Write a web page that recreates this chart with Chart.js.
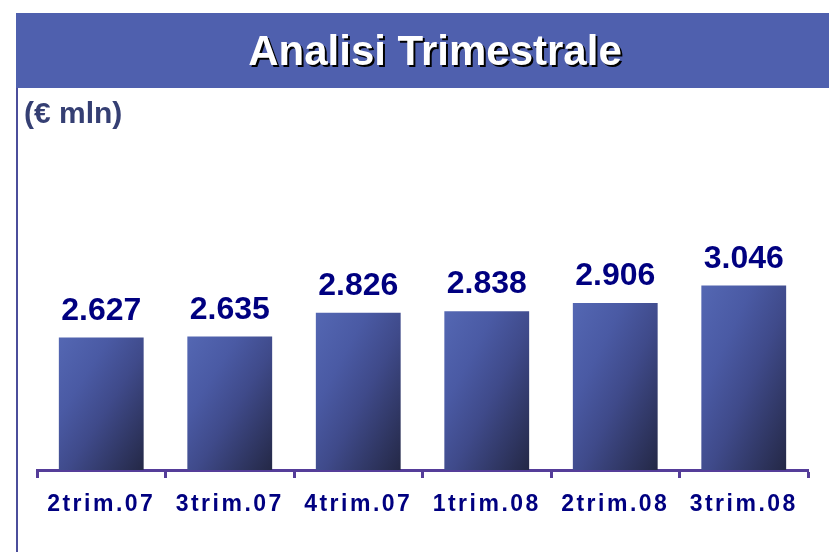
<!DOCTYPE html>
<html>
<head>
<meta charset="utf-8">
<script src="https://cdn.jsdelivr.net/npm/chart.js@4.4.1/dist/chart.umd.min.js"></script>
<style>
html,body{margin:0;padding:0;background:#fff;}
canvas{display:block;}
</style>
</head>
<body>
<canvas id="c" width="829" height="552"></canvas>
<script>
// ---- data ----
const categories = ["2trim.07", "3trim.07", "4trim.07", "1trim.08", "2trim.08", "3trim.08"];
const values = [2.627, 2.635, 2.826, 2.838, 2.906, 3.046];
const valueLabels = ["2.627", "2.635", "2.826", "2.838", "2.906", "3.046"];
const chartTitle = "Analisi Trimestrale";
const unitLabel = "(€ mln)";

const FONT = '"Liberation Sans", Arial, Helvetica, sans-serif';

class SpacedCategoryScale extends Chart.CategoryScale {
  drawLabels(area) {
    const ctx = this.ctx;
    ctx.save();
    ctx.letterSpacing = '2.5px';
    super.drawLabels(area);
    ctx.restore();
  }
}
SpacedCategoryScale.id = 'spacedCategory';
SpacedCategoryScale.defaults = Chart.CategoryScale.defaults;
Chart.register(SpacedCategoryScale);

const decor = {
  id: 'decor',
  beforeDraw(chart) {
    const ctx = chart.ctx;
    ctx.save();
    ctx.fillStyle = '#4F60AE';
    ctx.fillRect(16, 13, 829 - 16, 75);
    ctx.fillStyle = '#4B4D9B';
    ctx.fillRect(16, 88, 2, 552 - 88);
    ctx.font = 'bold 42px ' + FONT;
    ctx.textAlign = 'center';
    ctx.textBaseline = 'alphabetic';
    ctx.fillStyle = '#000000';
    ctx.fillText(chartTitle, 437, 67);
    ctx.fillStyle = '#FFFFFF';
    ctx.fillText(chartTitle, 435, 65);
    ctx.font = 'bold 30px ' + FONT;
    ctx.textAlign = 'left';
    ctx.fillStyle = '#353F73';
    ctx.fillText(unitLabel, 24, 123);
    ctx.restore();
  },
  afterDatasetsDraw(chart) {
    const ctx = chart.ctx;
    const meta = chart.getDatasetMeta(0);
    ctx.save();
    ctx.font = 'bold 32px ' + FONT;
    ctx.textAlign = 'center';
    ctx.textBaseline = 'alphabetic';
    ctx.fillStyle = '#000080';
    meta.data.forEach((bar, i) => {
      ctx.fillText(valueLabels[i], bar.x, bar.y - 18);
    });
    ctx.restore();
  }
};

function barGradient(context) {
  const chart = context.chart;
  const area = chart.chartArea;
  if (!area || context.type !== 'data') return '#4656A0';
  const xs = chart.scales.x, ys = chart.scales.y;
  const cx = xs.getPixelForValue(context.dataIndex);
  const w = (area.right - area.left) / categories.length * 0.66;
  const top = ys.getPixelForValue(context.raw);
  const h = area.bottom - top;
  const x0 = cx - w / 2;
  const k = 2 * w * h / (w * w + h * h);
  const g = chart.ctx.createLinearGradient(x0, top, x0 + h * k, top + w * k);
  g.addColorStop(0, '#5467B3');
  g.addColorStop(0.3, '#4A5AA4');
  g.addColorStop(0.55, '#3F4A8A');
  g.addColorStop(1, '#242846');
  return g;
}

new Chart(document.getElementById('c'), {
  type: 'bar',
  data: {
    labels: categories,
    datasets: [{
      data: values,
      backgroundColor: barGradient,
      borderWidth: 0,
      categoryPercentage: 1.0,
      barPercentage: 0.66
    }]
  },
  options: {
    responsive: false,
    animation: false,
    devicePixelRatio: 1,
    layout: { padding: { top: 105, left: 37, right: 21, bottom: 0 } },
    plugins: { legend: { display: false }, tooltip: { enabled: false }, title: { display: false } },
    scales: {
      x: {
        type: 'spacedCategory',
        offset: true,
        grid: {
          offset: true,
          drawOnChartArea: false,
          drawTicks: true,
          tickLength: 8,
          tickWidth: 3,
          tickColor: '#553D99'
        },
        border: { display: true, color: '#553D99', width: 3 },
        ticks: {
          color: '#000080',
          font: { family: FONT, size: 23, weight: 'bold' },
          padding: 13,
          maxRotation: 0,
          autoSkip: false
        },
        afterFit(scale) { scale.height = 82; }
      },
      y: {
        display: false,
        min: 1.56,
        max: 4.5
      }
    }
  },
  plugins: [decor]
});
</script>
</body>
</html>
